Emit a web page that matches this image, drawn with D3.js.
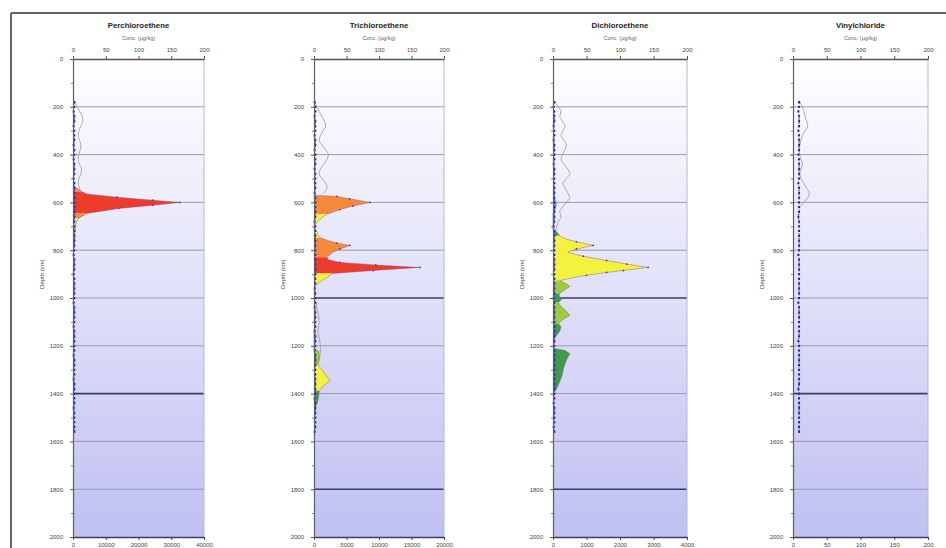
<!DOCTYPE html>
<html><head><meta charset="utf-8">
<script src="https://cdn.jsdelivr.net/npm/d3@7"></script>
<style>
body{margin:0;background:#fff;}
svg{display:block;font-family:"Liberation Sans",Arial,sans-serif;}
</style>
</head><body>
<svg id="chart" width="946" height="548"></svg>
<script>
// ---------- DATA ----------
const titles = ["Perchloroethene", "Trichloroethene", "Dichloroethene", "Vinylchloride"];
const subtitle = "Conc. (µg/kg)";
const yLabel = "Depth (cm)";
const depthTicks = [0, 200, 400, 600, 800, 1000, 1200, 1400, 1600, 1800, 2000];
const depthMinor = [100, 300, 500, 700, 900, 1100, 1300, 1500, 1700, 1900];
const topTicks = [0, 50, 100, 150, 200];
const bottomTicks = [
  [0, 10000, 20000, 30000, 40000],
  [0, 5000, 10000, 15000, 20000],
  [0, 1000, 2000, 3000, 4000],
  [0, 50, 100, 150, 200]
];
const darkGrid = [[1400], [1000, 1800], [1000, 1800], [1400]];

// filled profiles (depth, concentration on top axis, class per interval)
const pceDepth = [528,541,555,565,578,591,600,612,625,646,667,685,705,730,760,790];
const pceConc  = [0,6,14,21,67,122,163,122,70,21,8,5,4,3,3,1];
const pceClass = ['O','O','R','R','R','R','R','R','R','O','Y','Y','LG','LG','LG'];

const tceDepth = [570,575,585,600,615,630,650,660,675,690,700,715,722,735,748,760,770,780,795,810,830,840,851,862,872,885,897,914,935,950,1210,1222,1250,1280,1300,1330,1346,1365,1388,1415,1440,1460];
const tceConc  = [0,35,55,86,60,40,20,14,8,3,1,1,5,6,10,22,35,55,40,28,20,22,40,95,163,91,29,20,8,1,0,7,9,6,12,20,25,15,8,7,5,1];
const tceClass = ['O','O','O','O','O','O','Y','Y','Y','N','N','Y','Y','Y','O','O','O','O','O','O','R','R','R','R','R','R','Y','Y','Y','N','LG','LG','LG','Y','Y','Y','Y','Y','DG','DG','DG'];

const dceDepth = [580,590,610,633,645,715,725,740,752,765,780,795,809,825,843,858,872,885,893,905,915,927,940,952,965,981,992,1005,1019,1035,1055,1073,1090,1107,1120,1140,1165,1185,1210,1220,1233,1260,1290,1320,1350,1375,1390,1402];
const dceConc  = [0,4,5,3,0,0,6,10,18,35,60,35,22,45,80,110,142,105,80,50,30,10,20,25,18,10,9,13,8,12,20,25,15,8,12,10,3,1,0,18,25,20,16,14,10,6,3,0];
const dceClass = ['LB','LB','LB','LB','N','DG','DG','Y','Y','Y','Y','Y','Y','Y','Y','Y','Y','Y','Y','Y','Y','LG','LG','LG','LG','DG','DG','DG','LG','LG','LG','LG','LG','DG','DG','DG','N','N','DG','DG','DG','DG','DG','DG','DG','DG','LB'];

const vcDepth = [];
const vcConc = [];
const vcClass = [];

// thin grey reference profiles
const pceRefDepth = [180,200,220,240,260,280,300,320,340,360,380,400,420,440,460,480,500,520,540,560];
const pceRefConc  = [3,6,10,14,15,12,9,8,10,12,11,9,8,10,13,12,9,8,10,12];
const tceRefDepth = [180,200,220,240,260,280,300,320,340,360,380,400,420,440,460,480,500,520,540,560,null,1020,1060,1100,1140,1180,1220,1260];
const tceRefConc  = [2,4,8,12,16,18,14,10,8,12,18,22,20,15,10,8,12,18,20,14,null,3,6,8,6,9,10,7];
const dceRefDepth = [180,200,220,240,260,280,300,320,340,360,380,400,420,440,460,480,500,520,540,560,580,600,620,640,660,680,700,720];
const dceRefConc  = [3,8,12,10,14,18,15,12,16,20,18,14,12,16,22,25,20,15,18,22,25,20,14,10,12,8,6,4];
const vcRefDepth  = [180,200,220,240,260,280,300,320,340,360,380,400,420,440,460,480,500,520,540,560,580,600,620];
const vcRefConc   = [10,14,16,18,20,22,18,14,12,10,9,10,12,14,12,10,12,16,20,24,22,16,10];

// blue dotted profiles
const dotDepths = [180,200,220,240,260,280,300,320,340,360,380,400,420,440,460,480,500,520,540,560,580,600,620,640,660,680,700,720,740,760,780,800,820,840,860,880,900,920,940,960,980,1000,1020,1040,1060,1080,1100,1120,1140,1160,1180,1200,1220,1240,1260,1280,1300,1320,1340,1360,1380,1400,1420,1440,1460,1480,1500,1520,1540,1560];
const pceDots = [2,2,1,2,2,1,2,2,2,1,2,2,1,2,2,2,1,2,2,2,2,2,2,2,2,2,2,2,2,2,2,2,1,2,2,2,1,2,2,2,2,2,1,2,2,2,2,1,2,2,2,2,2,1,2,2,2,2,1,2,2,2,2,2,1,2,2,2,2,2];
const tceDots = [1,2,2,1,2,2,2,1,2,2,1,2,2,2,1,2,2,2,2,1,2,2,2,2,2,1,2,2,2,2,2,2,2,2,2,2,2,2,2,1,2,2,2,1,2,2,2,2,1,2,2,2,1,2,2,2,2,2,2,2,2,2,1,2,2,2,2,2,2,1];
const dceDots = [2,1,2,2,2,1,2,2,1,2,2,2,2,1,2,2,2,2,2,2,2,2,2,2,2,2,1,2,2,2,2,2,2,2,2,2,2,2,2,2,2,1,2,2,2,2,2,2,2,2,2,2,2,2,2,2,2,2,2,2,2,2,2,1,2,2,2,2,1,2];
const vcDots  = [9,9,8,9,9,9,8,9,9,9,9,8,9,9,9,9,9,8,9,9,9,9,9,9,8,9,9,9,9,9,9,9,8,9,9,9,9,9,9,9,9,9,8,9,9,9,9,9,9,9,8,9,9,9,9,9,9,9,9,9,8,9,9,9,9,9,9,9,9,9];

const profiles = [
  {depth: pceDepth, conc: pceConc, cls: pceClass, refD: pceRefDepth, refC: pceRefConc, dots: pceDots},
  {depth: tceDepth, conc: tceConc, cls: tceClass, refD: tceRefDepth, refC: tceRefConc, dots: tceDots},
  {depth: dceDepth, conc: dceConc, cls: dceClass, refD: dceRefDepth, refC: dceRefConc, dots: dceDots},
  {depth: vcDepth,  conc: vcConc,  cls: vcClass,  refD: vcRefDepth,  refC: vcRefConc,  dots: vcDots}
];

// ---------- STYLE / LAYOUT ----------
const classColor = {R: "#ef3b2c", O: "#f58a3a", Y: "#f3f23e", LG: "#9ccb3c", DG: "#3f9a4a", LB: "#56aaf0"};
const panelX = [[73, 204], [314, 444], [553, 687], [793, 928]];
const yTop = 59, yBot = 537;
const fmt = d3.format("d");

const svg = d3.select("#chart");
const defs = svg.append("defs");
const grad = defs.append("linearGradient").attr("id", "bg").attr("x1", 0).attr("y1", 0).attr("x2", 0).attr("y2", 1);
grad.append("stop").attr("offset", "0%").attr("stop-color", "#ffffff");
grad.append("stop").attr("offset", "100%").attr("stop-color", "#c0c0f2");

// outer frame
svg.append("line").attr("x1", 11).attr("y1", 13).attr("x2", 946).attr("y2", 13).attr("stroke", "#333").attr("stroke-width", 1.5);
svg.append("line").attr("x1", 11).attr("y1", 13).attr("x2", 11).attr("y2", 548).attr("stroke", "#333").attr("stroke-width", 1.5);

const y = d3.scaleLinear().domain([0, 2000]).range([yTop, yBot]);

profiles.forEach((p, i) => {
  const [x0, x1] = panelX[i];
  const x = d3.scaleLinear().domain([0, 200]).range([x0, x1]);
  const xb = d3.scaleLinear().domain([0, bottomTicks[i][bottomTicks[i].length - 1]]).range([x0, x1]);
  const g = svg.append("g");
  const cx = (x0 + x1) / 2;

  g.append("rect").attr("x", x0).attr("y", yTop).attr("width", x1 - x0).attr("height", yBot - yTop).attr("fill", "url(#bg)");

  // grid lines
  depthTicks.filter(d => d > 0 && d < 2000).forEach(d => {
    const dark = darkGrid[i].includes(d);
    g.append("line").attr("x1", x0).attr("x2", x1).attr("y1", y(d)).attr("y2", y(d))
      .attr("stroke", dark ? "#3c3c6c" : "#9a9ab4").attr("stroke-width", dark ? 1.6 : 1);
  });
  // right border
  g.append("line").attr("x1", x1).attr("x2", x1).attr("y1", yTop).attr("y2", yBot).attr("stroke", "#b8b8cc").attr("stroke-width", 1);

  // filled class areas
  const pts = p.depth.map((d, k) => ({depth: d, conc: p.conc[k]}));
  const area = d3.area().y(d => y(d.depth)).x0(x(0)).x1(d => x(d.conc));
  let k = 0;
  while (k < p.cls.length) {
    let e = k;
    while (e + 1 < p.cls.length && p.cls[e + 1] === p.cls[k]) e++;
    if (p.cls[k] !== "N") {
      g.append("path").datum(pts.slice(k, e + 2)).attr("d", area).attr("fill", classColor[p.cls[k]]).attr("stroke", "none");
    }
    k = e + 1;
  }
  if (pts.length) {
    g.append("path").datum(pts).attr("d", d3.line().y(d => y(d.depth)).x(d => x(d.conc)))
      .attr("fill", "none").attr("stroke", "#7a4c8a").attr("stroke-width", 0.6).attr("stroke-opacity", 0.7);
    g.selectAll(".mk").data(pts.filter(d => d.conc > 30)).enter().append("circle")
      .attr("cx", d => x(d.conc)).attr("cy", d => y(d.depth)).attr("r", 0.9).attr("fill", "#6a3a8a");
  }

  // grey reference line
  const ref = p.refD.map((d, k) => ({depth: d, conc: p.refC[k]}));
  g.append("path").datum(ref)
    .attr("d", d3.line().defined(d => d.depth != null).y(d => y(d.depth)).x(d => x(d.conc)).curve(d3.curveMonotoneY))
    .attr("fill", "none").attr("stroke", "#999").attr("stroke-width", 0.8);

  // blue dotted line
  const dots = dotDepths.map((d, k) => ({depth: d, conc: p.dots[k]}));
  g.append("path").datum(dots).attr("d", d3.line().y(d => y(d.depth)).x(d => x(d.conc)))
    .attr("fill", "none").attr("stroke", "#3a3ab0").attr("stroke-width", 1).attr("stroke-dasharray", "2,2");
  g.selectAll(".dt").data(dots).enter().append("rect")
    .attr("x", d => x(d.conc) - 1).attr("y", d => y(d.depth) - 1).attr("width", 2).attr("height", 2).attr("fill", "#22229a");

  // axes
  const axTop = g.append("g").attr("transform", `translate(0,${yTop})`)
    .call(d3.axisTop(x).tickValues(topTicks).tickFormat(fmt).tickSize(3).tickPadding(4).tickSizeOuter(0));
  axTop.select(".domain").attr("stroke", "#555").attr("stroke-width", 1.6);
  axTop.selectAll("line").attr("stroke", "#555");
  axTop.selectAll("text").attr("font-size", 6).attr("fill", "#444").attr("font-family", "Liberation Sans, Arial, sans-serif");

  const axBot = g.append("g").attr("transform", `translate(0,${yBot})`)
    .call(d3.axisBottom(xb).tickValues(bottomTicks[i]).tickFormat(fmt).tickSize(3).tickPadding(3).tickSizeOuter(0));
  axBot.select(".domain").attr("stroke", "#3c3c6c").attr("stroke-width", 1.6);
  axBot.selectAll("line").attr("stroke", "#444");
  axBot.selectAll("text").attr("font-size", 6).attr("fill", "#444").attr("font-family", "Liberation Sans, Arial, sans-serif");

  const axLeft = g.append("g").attr("transform", `translate(${x0},0)`)
    .call(d3.axisLeft(y).tickValues(depthTicks).tickFormat(fmt).tickSize(3).tickPadding(7).tickSizeOuter(0));
  axLeft.select(".domain").attr("stroke", "#5a5a7a").attr("stroke-width", 1.2);
  axLeft.selectAll("line").attr("stroke", "#555");
  axLeft.selectAll("text").attr("font-size", 6).attr("fill", "#444").attr("font-family", "Liberation Sans, Arial, sans-serif");
  const axMinor = g.append("g").attr("transform", `translate(${x0},0)`)
    .call(d3.axisLeft(y).tickValues(depthMinor).tickSize(2).tickFormat(""));
  axMinor.select(".domain").remove();
  axMinor.selectAll("line").attr("stroke", "#888");

  // texts
  g.append("text").attr("x", cx).attr("y", 28).attr("text-anchor", "middle")
    .attr("font-size", 7.8).attr("font-weight", "bold").attr("fill", "#222").text(titles[i]);
  g.append("text").attr("x", cx).attr("y", 40).attr("text-anchor", "middle")
    .attr("font-size", 5.5).attr("fill", "#666").text(subtitle);
  g.append("text").attr("transform", `translate(${x0 - 29},${y(900)}) rotate(-90)`).attr("text-anchor", "middle")
    .attr("font-size", 6).attr("fill", "#444").text(yLabel);
});
</script>
</body></html>
